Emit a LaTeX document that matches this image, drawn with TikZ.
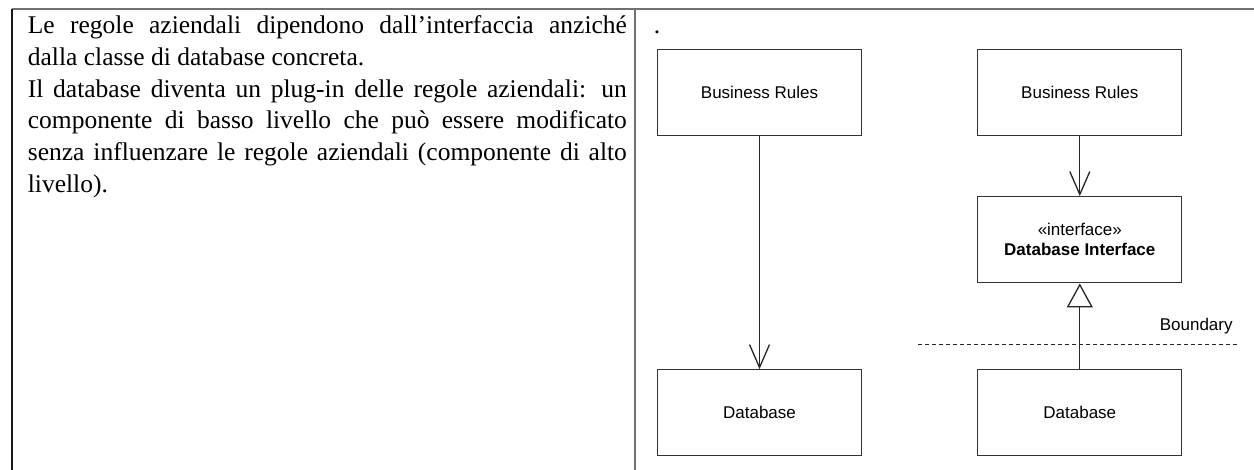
\documentclass[tikz,border=0pt]{standalone}
\usepackage{fontspec}
\setmainfont{Liberation Serif}
\setsansfont{Liberation Sans}
\usetikzlibrary{positioning, arrows.meta}
\definecolor{rulegray}{RGB}{112,112,112}
\tikzset{
x=0.5pt, y=-0.5pt, % one unit is one pixel of the page, y runs down
box/.style={draw=black!80, line width=0.65pt, minimum width=102pt, minimum height=43pt, inner sep=0pt, align=center, font=\sffamily\fontsize{8.5}{10}\selectfont}, % the class boxes
dep/.style={draw=black!85, line width=0.65pt, -{Straight Barb[length=11.5pt, width=10pt]}}, % dependency arrow
real/.style={draw=black!85, line width=0.65pt, -{Triangle[open, length=12pt, width=13pt]}}, % realization arrow
rule/.style={line width=1pt}, % table lines
}

\begin{document}
\begin{tikzpicture}
\useasboundingbox (0,0) rectangle (1254,470);

% table
\draw[rule, rulegray] (12,9) -- (1254,9);
\draw[rule, black!90] (12,9) -- (12,470);
\draw[rule, rulegray] (634.5,9) -- (634.5,470);

\node[anchor=base west, inner sep=0pt] (txt) at (27.5,33.5) {\parbox[t]{299.5pt}{\fontsize{12.75}{15.9}\selectfont\hfuzz=4pt
Le regole aziendali dipendono dall’interfaccia anziché\linebreak dalla classe di database concreta.\\
Il database diventa un plug-in delle regole aziendali: un\linebreak componente di basso livello che può essere modificato\linebreak senza influenzare le regole aziendali (componente di alto\linebreak livello).}};
\node[anchor=base west, inner sep=0pt, font=\fontsize{12.75}{15.9}\selectfont] (dot) at (653.5,34) {.};

% left: direct dependency
\node[box] (br1) at (759.5,92.5) {Business Rules};
\node[box, below=116.5pt of br1] (db1) {Database};

% right: dependency through the interface
\node[box, right=57.5pt of br1] (br2) {Business Rules};
\node[box, below=30pt of br2] (if2) {«interface»\\\textbf{Database Interface}};
\node[box, right=57.5pt of db1] (db2) {Database};

\draw[dep] (br1) -- (db1);
\draw[dep] (br2) -- (if2);
\draw[real] (db2) -- (if2);

% boundary
\coordinate (bl) at (918,345);
\coordinate (br) at (1237,345);
\draw[black!85, line width=0.5pt, dash pattern=on 2pt off 1.5pt] (bl) -- (br);
\node[anchor=base east, inner sep=0pt, font=\sffamily\fontsize{8.5}{10}\selectfont] (bnd) at (1233,331) {Boundary};
\end{tikzpicture}
\end{document}
